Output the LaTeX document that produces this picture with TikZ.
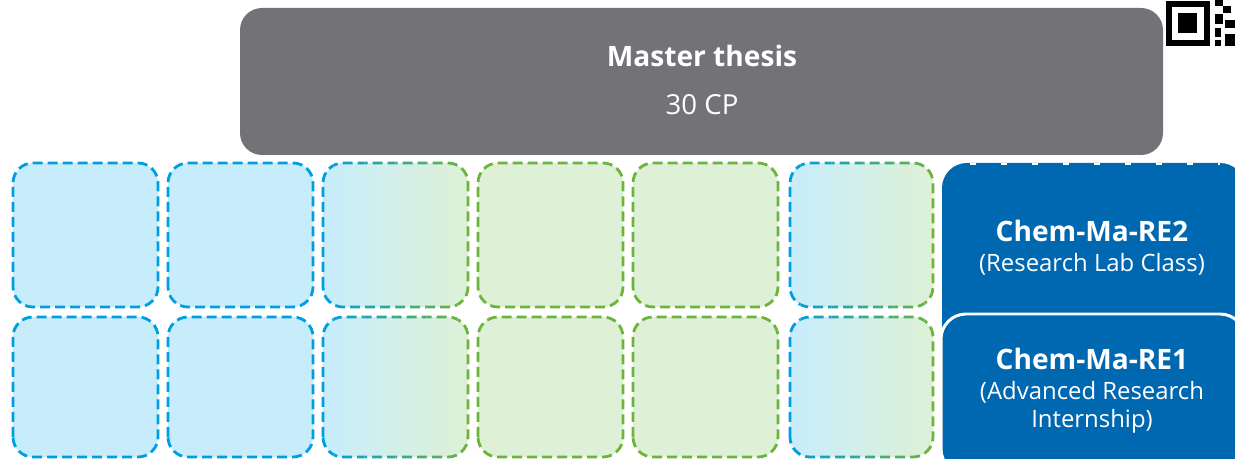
\documentclass[tikz,border=0pt]{standalone}
\usepackage{fontspec}
\setmainfont{Open Sans}
\definecolor{thesisgray}{RGB}{115,114,119}
\definecolor{cellblue}{RGB}{0,158,224}
\definecolor{fillblue}{RGB}{199,237,252}
\definecolor{cellgreen}{RGB}{109,180,62}
\definecolor{fillgreen}{RGB}{222,241,214}
\definecolor{moduleblue}{RGB}{0,103,177}
\tikzset{
  cellline/.style={line width=1.6pt,dash pattern=on 0.2cm off 0.1cm,rounded corners=0.4cm},
  bluecell/.style={cellline,draw=cellblue,fill=fillblue},
  greencell/.style={cellline,draw=cellgreen,fill=fillgreen},
  titletext/.style={anchor=base,text=white,font=\fontsize{16}{19}\selectfont\bfseries},
  subtext/.style={anchor=base,text=white,font=\fontsize{13.6}{16.5}\selectfont}
}
\begin{document}
\begin{tikzpicture}[x=1cm,y=1cm]
\useasboundingbox (0,0) rectangle (24.7,9.18);

\fill[thesisgray,rounded corners=0.44cm] (4.8,6.08) rectangle (23.26,9.02);
\node[titletext] (thesis) at (14.04,7.84) {Master thesis};
\node[subtext,font=\fontsize{15.7}{18}\selectfont] (thesiscp) at (14.04,6.88) {30 CP};

\fill[black] (23.32,8.26) rectangle (24.2,9.16);
\fill[white] (23.44,8.38) rectangle (24.08,9.04);
\fill[black] (23.56,8.52) rectangle (23.94,8.92);
\fill[black] (24.3,9.06) rectangle (24.46,9.18);
\fill[black] (24.46,8.92) rectangle (24.62,9.06);
\fill[black] (24.3,8.7) rectangle (24.46,8.9);
\fill[black] (24.5,8.62) rectangle (24.7,8.78);
\fill[black] (24.3,8.44) rectangle (24.42,8.62);
\fill[black] (24.5,8.26) rectangle (24.7,8.5);
\fill[black] (24.3,8.26) rectangle (24.42,8.38);

\foreach \x in {0.26,3.36}{
  \draw[bluecell] (\x,3.04) rectangle ++(2.9,2.88);
  \draw[bluecell] (\x,0.04) rectangle ++(2.9,2.8);
}
\foreach \x in {9.56,12.66}{
  \draw[greencell] (\x,3.04) rectangle ++(2.9,2.88);
  \draw[greencell] (\x,0.04) rectangle ++(2.9,2.8);
}
\foreach \x/\w in {6.46/2.9,15.8/2.86}{
  \shade[rounded corners=0.4cm,left color=fillblue,right color=fillgreen] (\x,3.04) rectangle ++(\w,2.88);
  \shade[rounded corners=0.4cm,left color=fillblue,right color=fillgreen] (\x,0.04) rectangle ++(\w,2.8);
  \foreach \i in {0,...,9}{
    \pgfmathsetmacro\p{100-\i*100/9}
    \begin{scope}
      \clip (\x-0.1+\i*0.31,-0.5) rectangle ++(0.31,7);
      \draw[cellline,draw=cellblue!\p!cellgreen] (\x,3.04) rectangle ++(\w,2.88);
      \draw[cellline,draw=cellblue!\p!cellgreen] (\x,0.04) rectangle ++(\w,2.8);
    \end{scope}
  }
}

\fill[moduleblue,rounded corners=0.5cm] (18.84,2.2) rectangle (24.9,5.92);
\draw[white,line width=0.8pt,dash pattern=on 0.12cm off 0.5cm] (19.4,5.9) -- (24.4,5.9);
\node[titletext] (re2) at (21.84,4.34) {Chem-Ma-RE2};
\node[subtext] (re2sub) at (21.84,3.74) {(Research Lab Class)};

\draw[white,fill=moduleblue,line width=1.7pt,rounded corners=0.5cm] (18.82,-0.3) rectangle (24.9,2.9);
\node[titletext] (re1) at (21.84,1.78) {Chem-Ma-RE1};
\node[subtext] (re1sub) at (21.84,1.18) {(Advanced Research};
\node[subtext] (re1sub2) at (21.84,0.62) {Internship)};
\end{tikzpicture}
\end{document}
